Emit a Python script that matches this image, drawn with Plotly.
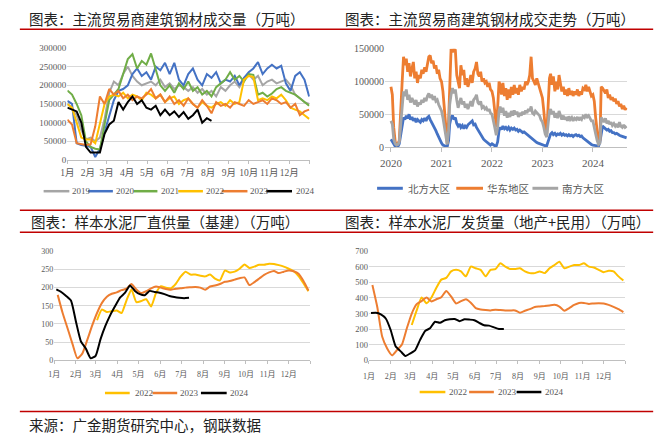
import plotly.graph_objects as go
import pandas as pd

# ---------------- DATA ----------------
months_cn = ["1月", "2月", "3月", "4月", "5月", "6月", "7月", "8月", "9月", "10月", "11月", "12月"]

# Panel 1: 主流贸易商建筑钢材成交量 (weekly, from Jan 1)
steel_2019 = [150000, 140000, 120000, 80000, 55000, 60000, 50000, 60000, 110000, 180000, 210000, 200000, 230000,
              250000, 225000, 210000, 200000, 205000, 210000, 200000, 215000, 195000, 205000, 190000, 200000, 195000,
              185000, 195000, 180000, 190000, 175000, 185000, 170000, 195000, 185000, 200000, 210000, 195000, 220000,
              230000, 215000, 225000, 200000, 210000, 215000, 205000, 210000, 215000, 200000, 175000, 165000, 155000,
              150000]
steel_2020 = [158000, 150000, 45000, 40000, 38000, 35000, 8000, 30000, 75000, 120000, 160000, 185000, 190000,
              200000, 230000, 245000, 225000, 235000, 215000, 250000, 240000, 260000, 230000, 260000, 215000, 200000,
              230000, 245000, 215000, 200000, 230000, 220000, 235000, 205000, 215000, 210000, 225000, 200000, 220000,
              235000, 245000, 262000, 230000, 245000, 255000, 245000, 252000, 205000, 185000, 225000, 235000, 215000,
              170000]
steel_2021 = [186000, 175000, 150000, 120000, 50000, 35000, 30000, 28000, 95000, 160000, 175000, 190000, 230000,
              270000, 283000, 245000, 265000, 255000, 285000, 240000, 200000, 185000, 200000, 180000, 205000, 190000,
              210000, 185000, 195000, 175000, 185000, 170000, 195000, 205000, 215000, 235000, 215000, 225000, 210000,
              230000, 228000, 175000, 180000, 170000, 178000, 190000, 195000, 185000, 180000, 175000, 165000, 155000,
              145000]
steel_2022 = [150000, 140000, 100000, 60000, 55000, 55000, 45000, 100000, 150000, 170000, 175000, 170000, 180000,
              165000, 175000, 170000, 160000, 180000, 175000, 165000, 175000, 155000, 165000, 170000, 150000, 160000,
              165000, 150000, 140000, 155000, 145000, 140000, 150000, 155000, 145000, 160000, 150000, 155000, 215000,
              225000, 222000, 160000, 165000, 160000, 170000, 165000, 175000, 160000, 140000, 135000, 130000, 120000,
              110000]
steel_2023 = [108000, 95000, 45000, 42000, 40000, 42000, 90000, 170000, 150000, 190000, 175000, 185000, 165000,
              175000, 160000, 170000, 165000, 175000, 190000, 165000, 175000, 155000, 170000, 150000, 160000, 145000,
              165000, 150000, 140000, 160000, 145000, 125000, 155000, 145000, 150000, 140000, 155000, 150000, 145000,
              160000, 150000, 155000, 160000, 150000, 165000, 160000, 150000, 155000, 140000, 150000, 120000, 130000,
              135000]
steel_2024 = [140000, 135000, 130000, 100000, 35000, 20000, 20000, 20000, 70000, 95000, 105000, 155000, 135000,
              155000, 170000, 150000, 160000, 140000, 135000, 145000, 120000, 135000, 120000, 130000, 115000, 128000,
              110000, 120000, 135000, 100000, 112000, 105000]

# Panel 2: 主流贸易商建筑钢材成交走势 (every ~10 days from 2020-01-01)
north_2020 = [12000, 8000, 3000, 1000, 500, 1000, 5000, 20000, 35000, 45000, 42000, 48000, 44000, 50000, 42000, 46000,
              40000, 44000, 38000, 42000, 40000, 38000, 42000, 40000, 44000, 40000, 45000, 47000, 42000, 38000, 35000,
              30000, 25000, 20000, 15000, 10000]
north_2021 = [6000, 3000, 2000, 1000, 500, 10000, 35000, 45000, 48000, 42000, 45000, 36000, 32000, 35000, 30000, 33000,
              28000, 32000, 30000, 34000, 36000, 38000, 40000, 34000, 35000, 30000, 26000, 22000, 18000, 15000, 12000,
              10000, 8000, 6000, 4000, 3000]
north_2022 = [5000, 3000, 2000, 1500, 8000, 25000, 30000, 27000, 32000, 28000, 30000, 27000, 30000, 26000, 29000, 27000,
              29000, 26000, 27000, 24000, 26000, 24000, 22000, 23000, 21000, 20000, 18000, 16000, 14000, 12000, 10000,
              9000, 7000, 6000, 5000, 4000]
north_2023 = [3000, 2500, 2000, 2000, 10000, 18000, 20000, 22000, 19000, 21000, 18000, 20000, 19000, 21000, 18000,
              20000, 18000, 19000, 17000, 19000, 17000, 18000, 16000, 18000, 19000, 17000, 18000, 16000, 17000, 14000,
              12000, 10000, 8000, 7000, 5000, 4000]
north_2024 = [3000, 2500, 2000, 1500, 1500, 8000, 20000, 32000, 30000, 28000, 26000, 27000, 24000, 25000, 22000, 22000,
              20000, 21000, 19000, 18000, 17000, 16000, 15000, 14000, 14000]

east_2020 = [92000, 80000, 30000, 8000, 4000, 5000, 10000, 45000, 95000, 138000, 125000, 135000, 115000, 128000, 108000,
             120000, 130000, 105000, 115000, 98000, 110000, 105000, 118000, 112000, 122000, 115000, 128000, 138000,
             140000, 128000, 132000, 120000, 125000, 112000, 118000, 105000]
east_2021 = [100000, 85000, 60000, 25000, 5000, 40000, 110000, 150000, 145000, 150000, 148000, 110000, 100000, 90000,
             125000, 110000, 118000, 95000, 105000, 92000, 100000, 110000, 98000, 115000, 120000, 130000, 112000, 108000,
             115000, 100000, 105000, 98000, 100000, 92000, 98000, 88000]
east_2022 = [85000, 75000, 55000, 30000, 60000, 100000, 95000, 80000, 98000, 78000, 90000, 72000, 88000, 75000, 92000,
             80000, 95000, 82000, 90000, 80000, 95000, 85000, 92000, 88000, 100000, 95000, 100000, 110000, 138000,
             105000, 100000, 95000, 105000, 98000, 92000, 85000]
east_2023 = [75000, 55000, 30000, 20000, 60000, 105000, 112000, 95000, 108000, 85000, 100000, 88000, 110000, 98000,
             85000, 92000, 80000, 88000, 78000, 90000, 80000, 86000, 78000, 85000, 80000, 88000, 78000, 85000, 80000,
             90000, 88000, 95000, 85000, 92000, 85000, 78000]
east_2024 = [80000, 70000, 45000, 20000, 6000, 10000, 92000, 90000, 85000, 82000, 88000, 75000, 80000, 72000, 76000,
             70000, 74000, 66000, 70000, 62000, 66000, 58000, 63000, 57000, 60000]

south_2020 = [40000, 35000, 12000, 5000, 3000, 4000, 8000, 35000, 65000, 85000, 78000, 88000, 72000, 80000, 68000,
              75000, 70000, 65000, 72000, 62000, 68000, 65000, 72000, 68000, 75000, 70000, 78000, 82000, 75000, 80000,
              72000, 78000, 70000, 72000, 65000, 60000]
south_2021 = [55000, 45000, 30000, 12000, 4000, 25000, 65000, 80000, 90000, 82000, 88000, 72000, 60000, 68000, 75000,
              65000, 70000, 60000, 66000, 58000, 64000, 70000, 62000, 72000, 75000, 80000, 68000, 65000, 70000, 60000,
              62000, 58000, 60000, 55000, 58000, 52000]
south_2022 = [50000, 42000, 30000, 18000, 30000, 55000, 62000, 52000, 60000, 48000, 55000, 45000, 52000, 46000, 55000,
              48000, 56000, 50000, 54000, 46000, 52000, 48000, 54000, 50000, 56000, 52000, 58000, 55000, 62000, 52000,
              50000, 55000, 52000, 50000, 48000, 42000]
south_2023 = [38000, 30000, 20000, 15000, 35000, 55000, 58000, 50000, 55000, 45000, 52000, 44000, 55000, 48000, 42000,
              48000, 42000, 46000, 40000, 47000, 42000, 45000, 40000, 44000, 42000, 46000, 41000, 44000, 42000, 47000,
              45000, 50000, 46000, 48000, 44000, 40000]
south_2024 = [40000, 32000, 20000, 10000, 4000, 6000, 45000, 42000, 38000, 44000, 36000, 40000, 35000, 38000, 33000,
              36000, 32000, 35000, 30000, 38000, 32000, 30000, 34000, 30000, 32000]

# Panel 3: 样本水泥厂直供量（基建） (weekly)
infra_2022 = [110, 140, 133, 135, 137, 130, 165, 195, 160, 163, 168, 148, 185, 204, 200, 198, 210, 230, 244, 236, 236,
              233, 231, 236, 225, 220, 247, 242, 244, 252, 264, 254, 258, 263, 263, 266, 265, 262, 258, 252, 245, 232,
              212, 190]
infra_2023 = [180, 130, 88, 45, 5, 18, 55, 95, 130, 158, 175, 183, 187, 193, 197, 210, 195, 185, 190, 198, 203, 200,
              196, 194, 197, 198, 200, 201, 202, 200, 194, 203, 206, 210, 216, 218, 222, 226, 228, 207, 215, 225, 235,
              242, 246, 240, 244, 247, 245, 238, 218, 192]
infra_2024 = [195, 188, 177, 164, 106, 52, 32, 5, 12, 58, 95, 125, 150, 173, 186, 206, 191, 182, 179, 191, 188, 186,
              182, 177, 174, 172, 171, 172]

# Panel 4: 样本水泥厂发货量（地产+民用） (weekly)
prop_2022 = [226, 320, 403, 366, 403, 466, 518, 529, 571, 581, 571, 539, 602, 591, 581, 539, 581, 585, 623, 602, 587,
             587, 591, 571, 560, 560, 571, 560, 591, 612, 633, 591, 602, 612, 612, 623, 602, 596, 581, 566, 575, 571,
             539, 512]
prop_2023 = [483, 340, 150, 75, 31, 65, 100, 205, 300, 360, 380, 403, 378, 392, 405, 445, 410, 365, 380, 392, 370, 335,
             326, 322, 320, 325, 322, 320, 320, 320, 305, 318, 328, 342, 345, 348, 352, 356, 345, 318, 335, 355, 368,
             368, 362, 365, 366, 365, 356, 343, 328, 309]
prop_2024 = [303, 305, 295, 268, 194, 90, 58, 27, 44, 65, 132, 188, 205, 247, 240, 257, 263, 265, 251, 263, 261, 257,
             240, 224, 222, 211, 201, 201]

# ---------------- HELPERS ----------------
W, H = 670, 438


def px(x):
    return x / W


def py(y):
    return 1 - y / H


def weekly(start, vals):
    return pd.date_range(start, periods=len(vals), freq="7D")


def ten_day(n, year=2020):
    out, m = [], 1
    while len(out) < n:
        for d in (1, 11, 21):
            if len(out) < n:
                out.append(f"{year}-{m:02d}-{d:02d}")
        m += 1
        if m > 12:
            m, year = 1, year + 1
    return out


C_GRAY, C_BLUE, C_GREEN = "#A5A5A5", "#4472C4", "#70AD47"
C_YEL, C_ORG, C_BLK = "#FFC000", "#ED7D31", "#000000"
RED = "#C00000"
SERIF = "Liberation Serif, Noto Sans CJK SC"
CJK = "Noto Sans CJK SC"
TXT = "#595959"

fig = go.Figure()

# Panel 1
p1 = [("2019", steel_2019, C_GRAY), ("2020", steel_2020, C_BLUE), ("2021", steel_2021, C_GREEN),
      ("2022", steel_2022, C_YEL), ("2023", steel_2023, C_ORG), ("2024", steel_2024, C_BLK)]
for name, vals, col in p1:
    fig.add_trace(go.Scatter(x=weekly("2001-01-01", vals), y=vals, mode="lines", name=name,
                             line=dict(color=col, width=2), xaxis="x", yaxis="y",
                             showlegend=False, hoverinfo="skip"))

# Panel 2
north = north_2020 + north_2021 + north_2022 + north_2023 + north_2024
east = east_2020 + east_2021 + east_2022 + east_2023 + east_2024
south = south_2020 + south_2021 + south_2022 + south_2023 + south_2024
for name, vals, col in [("北方大区", north, C_BLUE), ("华东地区", east, C_ORG), ("南方大区", south, C_GRAY)]:
    fig.add_trace(go.Scatter(x=ten_day(len(vals)), y=vals, mode="lines", name=name,
                             line=dict(color=col, width=2.8), xaxis="x2", yaxis="y2",
                             showlegend=False, hoverinfo="skip", cliponaxis=False))

# Panel 3 & 4
starts = {"2022": "2001-03-03", "2023": "2001-01-06", "2024": "2001-01-04"}
for ax, series in [("3", [("2022", infra_2022, C_YEL), ("2023", infra_2023, C_ORG), ("2024", infra_2024, C_BLK)]),
                   ("4", [("2022", prop_2022, C_YEL), ("2023", prop_2023, C_ORG), ("2024", prop_2024, C_BLK)])]:
    for name, vals, col in series:
        fig.add_trace(go.Scatter(x=weekly(starts[name], vals), y=vals, mode="lines", name=name,
                                 line=dict(color=col, width=2, shape="spline", smoothing=0.5),
                                 xaxis="x" + ax, yaxis="y" + ax, showlegend=False, hoverinfo="skip"))

month_ticks = [f"2001-{m:02d}-01" for m in range(1, 13)] + ["2002-01-01"]
month_text = months_cn + [""]


def month_axis(domain, size, standoff):
    return dict(domain=domain, type="date", range=["2001-01-01", "2002-01-01"], tickvals=month_ticks,
                ticktext=month_text, ticks="outside", ticklen=3, tickcolor="#BFBFBF", showline=True,
                linecolor="#BFBFBF", linewidth=1, showgrid=False, zeroline=False, tickangle=0,
                ticklabelstandoff=standoff,
                tickfont=dict(family=SERIF, size=size, color=TXT), fixedrange=True)


def val_axis(domain, rng, dtick, size, anchor):
    return dict(domain=domain, range=rng, dtick=dtick, tick0=0, tickformat="d", showline=False, ticks="",
                gridcolor="#D9D9D9", gridwidth=1, zeroline=False, anchor=anchor,
                tickfont=dict(family=SERIF, size=size, color=TXT), fixedrange=True)


layout = dict(
    width=W, height=H, margin=dict(l=0, r=0, t=0, b=0), autosize=False,
    paper_bgcolor="white", plot_bgcolor="white", showlegend=False,
    xaxis=dict(month_axis([px(61), px(306)], 9.5, 1), anchor="y"),
    yaxis=val_axis([py(159), py(44)], [0, 300000], 50000, 9, "x"),
    xaxis2=dict(domain=[px(382), px(627)], type="date", range=["2019-11-19", "2024-09-07"],
                tickvals=[f"{y}-01-01" for y in range(2020, 2025)], ticktext=[str(y) for y in range(2020, 2025)],
                ticks="outside", ticklen=4, tickcolor="#BFBFBF", showline=True, linecolor="#BFBFBF",
                showgrid=False, zeroline=False, anchor="y2", tickangle=0, ticklabelstandoff=2,
                tickfont=dict(family=SERIF, size=11, color=TXT), fixedrange=True),
    yaxis2=val_axis([py(145.7), py(45)], [0, 150000], 50000, 10, "x2"),
    xaxis3=dict(month_axis([px(47.7), px(306.7)], 8, 3), anchor="y3"),
    yaxis3=val_axis([py(364.3), py(252.7)], [0, 300], 50, 8, "x3"),
    xaxis4=dict(month_axis([px(365.7), px(625)], 8, 5), anchor="y4"),
    yaxis4=val_axis([py(364.3), py(252.7)], [0, 700], 100, 8.5, "x4"),
)
fig.update_layout(**layout)

shapes = []
annotations = []
for yy in (25, 210.5, 233, 417):
    shapes.append(dict(type="line", xref="paper", yref="paper", x0=px(13), x1=px(653), y0=py(yy), y1=py(yy),
                       line=dict(color=RED, width=1.5)))

titles = [("图表：主流贸易商建筑钢材成交量（万吨）", 20, 14),
          ("图表：主流贸易商建筑钢材成交走势（万吨）", 340, 14),
          ("图表：样本水泥厂直供量（基建）（万吨）", 22, 222),
          ("图表：样本水泥厂发货量（地产+民用）（万吨）", 340, 222),
          ("来源：广金期货研究中心，钢联数据", 20, 430)]
for t, x, y in titles:
    annotations.append(dict(text=t, xref="paper", yref="paper", x=px(x), y=py(y), xanchor="left",
                            yanchor="middle", showarrow=False, font=dict(family=CJK, size=14.5, color="#222222")))

# manual legends
legend_items = [
    ("2019", C_GRAY, 37, 63, 64, 191), ("2020", C_BLUE, 82, 107, 108, 191),
    ("2021", C_GREEN, 128, 152, 154, 191), ("2022", C_YEL, 173, 198, 199, 191),
    ("2023", C_ORG, 217, 243, 244, 191), ("2024", C_BLK, 262, 288, 290, 191),
]
for lab, col, x0, x1, tx, y in legend_items:
    shapes.append(dict(type="line", xref="paper", yref="paper", x0=px(x0), x1=px(x1), y0=py(y), y1=py(y),
                       line=dict(color=col, width=2.5)))
    annotations.append(dict(text=lab, xref="paper", yref="paper", x=px(tx), y=py(y), xanchor="left",
                            yanchor="middle", showarrow=False, font=dict(family=SERIF, size=9, color=TXT)))

legend2 = [("北方大区", C_BLUE, 374, 400, 403), ("华东地区", C_ORG, 454, 481, 483), ("南方大区", C_GRAY, 531, 557, 559)]
for lab, col, x0, x1, tx in legend2:
    shapes.append(dict(type="line", xref="paper", yref="paper", x0=px(x0), x1=px(x1), y0=py(188), y1=py(188),
                       line=dict(color=col, width=3)))
    annotations.append(dict(text=lab, xref="paper", yref="paper", x=px(tx), y=py(188), xanchor="left",
                            yanchor="middle", showarrow=False, font=dict(family=CJK, size=10.5, color=TXT)))

legend34 = [("2022", C_YEL, 99, 124, 127, 398), ("2023", C_ORG, 147, 172, 173, 398), ("2024", C_BLK, 196, 222, 223, 398),
            ("2022", C_YEL, 417, 443, 445, 397), ("2023", C_ORG, 467, 492, 494, 397), ("2024", C_BLK, 515, 540, 542, 397)]
for lab, col, x0, x1, tx, y in legend34:
    shapes.append(dict(type="line", xref="paper", yref="paper", x0=px(x0), x1=px(x1), y0=py(y), y1=py(y),
                       line=dict(color=col, width=2.5)))
    annotations.append(dict(text=lab, xref="paper", yref="paper", x=px(tx), y=py(y), xanchor="left",
                            yanchor="middle", showarrow=False, font=dict(family=SERIF, size=9, color=TXT)))

fig.update_layout(shapes=shapes, annotations=annotations)
fig.write_html("out.html", config=dict(displayModeBar=False))
